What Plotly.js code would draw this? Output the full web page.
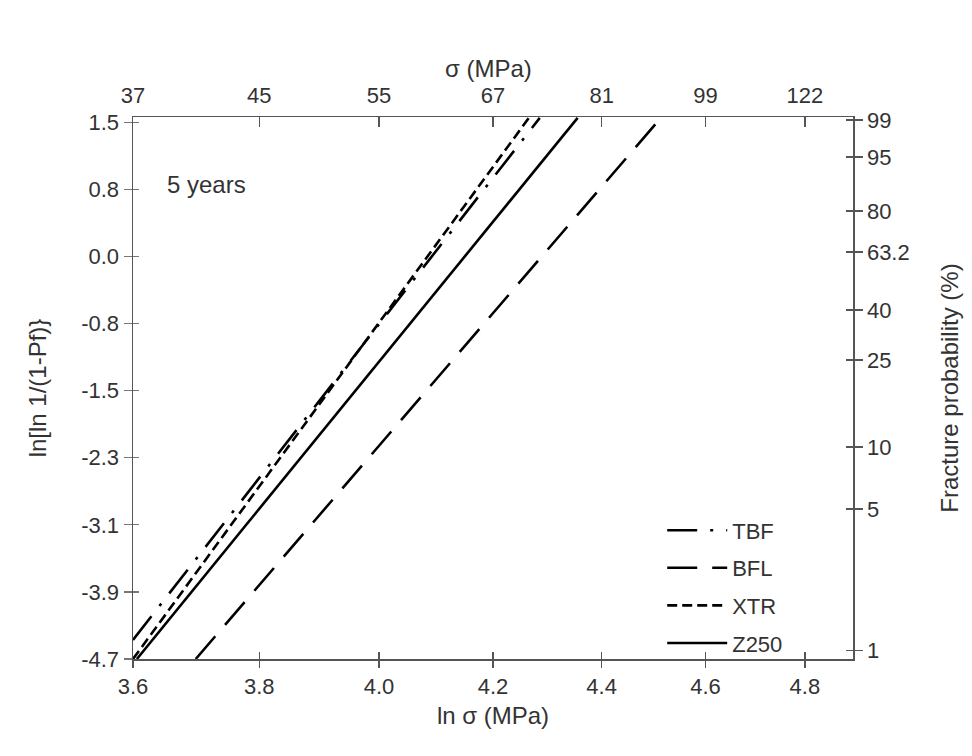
<!DOCTYPE html>
<html>
<head>
<meta charset="utf-8">
<script src="https://cdn.plot.ly/plotly-3.0.1.min.js"></script>
<style>html,body{margin:0;padding:0;background:#fff;}#chart{width:972px;height:756px;}</style>
</head>
<body>
<div id="chart"></div>
<script>
// ---- data ----
const seriesNames = ['TBF', 'BFL', 'XTR', 'Z250'];
const lnSigmaTBF = [3.600, 4.285];
const weibullTBF = [-4.48, 1.55];
const lnSigmaBFL = [3.698, 4.513];
const weibullBFL = [-4.70, 1.55];
const lnSigmaXTR = [3.600, 4.265];
const weibullXTR = [-4.70, 1.55];
const lnSigmaZ250 = [3.606, 4.355];
const weibullZ250 = [-4.70, 1.55];

// axis tick labels
const lnSigmaTicks = [3.6, 3.8, 4.0, 4.2, 4.4, 4.6, 4.8];
const lnSigmaTickText = ['3.6', '3.8', '4.0', '4.2', '4.4', '4.6', '4.8'];
const sigmaTickText = ['37', '45', '55', '67', '81', '99', '122'];
const weibullTickText = ['1.5', '0.8', '0.0', '-0.8', '-1.5', '-2.3', '-3.1', '-3.9', '-4.7'];
const probTicks = [99, 95, 80, 63.2, 40, 25, 10, 5, 1];
const probTickText = ['99', '95', '80', '63.2', '40', '25', '10', '5', '1'];

// ---- derived ----
const yMin = -4.7, yMax = 1.5, yTop = 1.56;
const xMin = 3.6, xMax = 4.9;
const leftTickVals = weibullTickText.map((t, i) => yMax - i * (yMax - yMin) / (weibullTickText.length - 1));
const probTickVals = probTicks.map(p => Math.log(-Math.log(1 - p / 100)));

const FONT = 'Liberation Sans, Arial, sans-serif';
const TXT = '#333';
const AX = '#555';

const lineStyles = {
  TBF: '30px,13px,3px,13px',
  BFL: '30px,15px',
  XTR: '10px,5px',
  Z250: 'solid'
};
const xs = [lnSigmaTBF, lnSigmaBFL, lnSigmaXTR, lnSigmaZ250];
const ys = [weibullTBF, weibullBFL, weibullXTR, weibullZ250];

const traces = seriesNames.map((n, i) => ({
  type: 'scatter', mode: 'lines', name: n, legendgroup: n,
  x: xs[i], y: ys[i], xaxis: 'x', yaxis: 'y',
  line: {color: '#000', width: 2.6, dash: lineStyles[n]},
  hoverinfo: 'skip'
}));
// empty helper traces so overlay axes get their subplots
traces.push({type: 'scatter', x: [], y: [], xaxis: 'x2', yaxis: 'y2', showlegend: false});
traces.push({type: 'scatter', x: [], y: [], xaxis: 'x3', yaxis: 'y3', showlegend: false});
traces.push({type: 'scatter', x: [], y: [], xaxis: 'x', yaxis: 'y4', showlegend: false});

const xr = [Math.log10(xMin), Math.log10(xMax)];
const yr = [yMin, yTop];
const tickFont = {family: FONT, size: 22, color: TXT};
const titleFont = {family: FONT, size: 24, color: TXT};

const layout = {
  width: 972, height: 756,
  margin: {l: 133, r: 119, t: 117, b: 97},
  paper_bgcolor: '#fff', plot_bgcolor: '#fff',
  font: {family: FONT, color: TXT, size: 22},
  showlegend: true,
  legend: {
    x: 0.735, y: 0.276, xanchor: 'left', yanchor: 'top',
    bgcolor: 'rgba(0,0,0,0)', borderwidth: 0,
    font: {family: FONT, size: 22, color: TXT},
    itemwidth: 60, traceorder: 'grouped', tracegroupgap: 6
  },
  xaxis: {
    type: 'log', range: xr, side: 'bottom',
    tickmode: 'array', tickvals: lnSigmaTicks, ticktext: lnSigmaTickText,
    ticks: 'outside', ticklen: 7, tickwidth: 1.5, tickcolor: AX,
    showline: true, linecolor: AX, linewidth: 1.5, mirror: false,
    showgrid: false, zeroline: false, tickfont: tickFont,
    title: {text: 'ln σ (MPa)', font: titleFont, standoff: 9}
  },
  xaxis2: {
    type: 'log', range: xr, overlaying: 'x', side: 'top', anchor: 'y',
    tickmode: 'array', tickvals: lnSigmaTicks, ticktext: sigmaTickText,
    ticks: 'inside', ticklen: 10, tickwidth: 1.5, tickcolor: AX,
    showline: true, linecolor: AX, linewidth: 1.5,
    showgrid: false, zeroline: false, tickfont: tickFont, ticklabelstandoff: 4
  },
  xaxis3: {
    type: 'log', range: xr, overlaying: 'x', side: 'bottom', anchor: 'y3',
    tickmode: 'array', tickvals: lnSigmaTicks, showticklabels: false,
    ticks: 'inside', ticklen: 7, tickwidth: 1.5, tickcolor: AX,
    showline: false, showgrid: false, zeroline: false
  },
  yaxis: {
    range: yr, side: 'left',
    tickmode: 'array', tickvals: leftTickVals, ticktext: weibullTickText,
    ticks: 'outside', ticklen: 8, tickwidth: 1.2, tickcolor: '#777',
    showline: true, linecolor: AX, linewidth: 1.5,
    showgrid: false, zeroline: false, tickfont: tickFont,
    title: {text: 'ln[ln 1/(1-Pf)}', font: titleFont, standoff: 28}
  },
  yaxis2: {
    range: yr, overlaying: 'y', side: 'right', anchor: 'x2',
    tickmode: 'array', tickvals: probTickVals, ticktext: probTickText,
    ticks: 'outside', ticklen: 8, tickwidth: 1.5, tickcolor: AX,
    showline: true, linecolor: AX, linewidth: 1.5,
    showgrid: false, zeroline: false, tickfont: tickFont,
    title: {text: 'Fracture probability (%)', font: titleFont, standoff: 32}
  },
  yaxis3: {
    range: yr, overlaying: 'y', side: 'left', anchor: 'x3',
    tickmode: 'array', tickvals: leftTickVals, showticklabels: false,
    ticks: 'inside', ticklen: 6, tickwidth: 1.2, tickcolor: '#777',
    showline: false, showgrid: false, zeroline: false
  },
  yaxis4: {
    range: yr, overlaying: 'y', side: 'right', anchor: 'x',
    tickmode: 'array', tickvals: probTickVals, showticklabels: false,
    ticks: 'inside', ticklen: 7, tickwidth: 1.5, tickcolor: AX,
    showline: false, showgrid: false, zeroline: false
  },
  annotations: [{
    text: '5 years', xref: 'paper', yref: 'paper', x: 0.044, y: 0.876,
    xanchor: 'left', yanchor: 'middle', showarrow: false,
    font: {family: FONT, size: 24, color: TXT}
  }, {
    text: 'σ (MPa)', xref: 'paper', yref: 'paper', x: 0.494, y: 1.09,
    xanchor: 'center', yanchor: 'middle', showarrow: false,
    font: titleFont
  }]
};

Plotly.newPlot('chart', traces, layout, {staticPlot: true, displayModeBar: false});
</script>
</body>
</html>
